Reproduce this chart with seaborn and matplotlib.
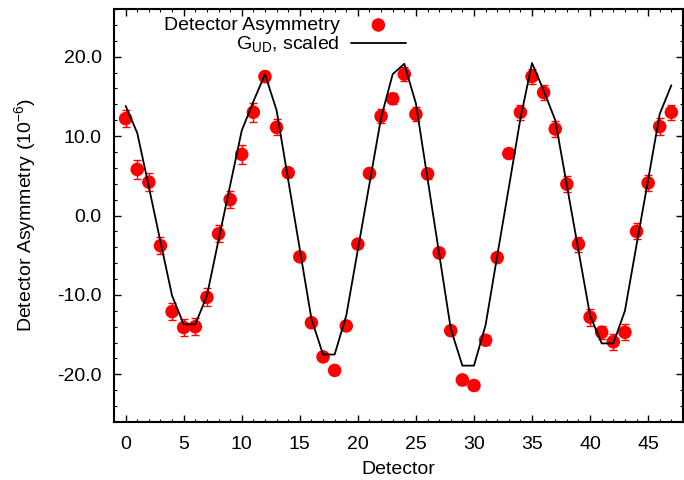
import numpy as np
import pandas as pd
import matplotlib
matplotlib.use("Agg")
import matplotlib.pyplot as plt
from matplotlib.ticker import MultipleLocator, FormatStrFormatter
import seaborn as sns

# detector index
detector = list(range(48))

# measured asymmetry (1e-6) with errors
asymmetry = [12.2, 5.8, 4.2, -3.8, -12.1, -14.1, -14.0, -10.3, -2.3, 2.0,
             7.7, 13.0, 17.5, 11.1, 5.4, -5.2, -13.5, -17.8, -19.5, -13.9,
             -3.6, 5.3, 12.5, 14.7, 17.8, 12.75, 5.25, -4.7, -14.5, -20.7,
             -21.4, -15.7, -5.3, 7.8, 13.0, 17.5, 15.5, 10.9, 3.95, -3.6,
             -12.8, -14.7, -15.9, -14.7, -2.0, 4.1, 11.2, 13.0]
asym_err = [1.05, 1.15, 1.1, 1.05, 1.05, 1.05, 1.05, 1.15, 1.05, 1.1,
            1.2, 1.2, 0.75, 1.0, 0.6, 0.5, 0.5, 0.5, 0.5, 0.5,
            0.5, 0.5, 0.9, 0.7, 0.9, 0.9, 0.6, 0.6, 0.6, 0.6,
            0.6, 0.6, 0.6, 0.6, 0.95, 0.9, 0.95, 1.0, 1.0, 0.95,
            1.05, 0.85, 1.0, 1.0, 1.0, 1.05, 1.1, 0.95]

# G_UD, scaled
g_ud = [13.8, 10.4, 3.6, -3.3, -10.1, -13.7, -13.7, -10.1, -3.1, 3.8,
        10.7, 14.35, 17.8, 13.25, 4.5, -4.25, -13.0, -17.5, -17.5, -12.6,
        -4.3, 4.0, 12.3, 17.8, 19.1, 14.1, 4.65, -4.8, -14.25, -18.9,
        -18.9, -13.8, -5.1, 3.5, 12.2, 19.2, 15.75, 12.0, 3.8, -4.4,
        -12.6, -16.1, -16.1, -12.0, -3.7, 4.5, 12.8, 16.4]

df = pd.DataFrame({"detector": detector, "asym": asymmetry, "err": asym_err, "g_ud": g_ud})

sns.set_style("ticks")
plt.rcParams["font.family"] = ["Liberation Sans", "DejaVu Sans"]
plt.rcParams["axes.unicode_minus"] = False
plt.rcParams["text.color"] = "black"
plt.rcParams["axes.labelcolor"] = "black"
plt.rcParams["xtick.color"] = "black"
plt.rcParams["ytick.color"] = "black"

fig = plt.figure(figsize=(6.84, 4.8), dpi=100)
ax = fig.add_axes([0.1667, 0.1208, 0.8318, 0.8604])

ax.errorbar(df["detector"], df["asym"], yerr=df["err"], fmt="none",
            ecolor="red", elinewidth=1.0, capsize=3.2, capthick=1.0, zorder=2)
sns.scatterplot(data=df, x="detector", y="asym", color="red", s=95,
                edgecolor="none", ax=ax, zorder=3, label="Detector Asymmetry")
sns.lineplot(data=df, x="detector", y="g_ud", color="black", linewidth=1.3,
             ax=ax, zorder=4, label="G$_{\\mathregular{UD}}$, scaled")

ax.set_xlim(-1, 48)
ax.set_ylim(-26, 26)
ax.xaxis.set_major_locator(MultipleLocator(5))
ax.xaxis.set_minor_locator(MultipleLocator(1))
ax.yaxis.set_major_locator(MultipleLocator(10))
ax.yaxis.set_minor_locator(MultipleLocator(2))
ax.yaxis.set_major_formatter(FormatStrFormatter("%.1f"))
ax.tick_params(which="both", direction="in", top=True, right=True, colors="black", labelsize=14)
ax.tick_params(which="major", length=5, width=1.0)
ax.tick_params(which="minor", length=2.5, width=0.8)
ax.tick_params(axis="x", which="major", pad=10)
ax.tick_params(axis="y", which="major", pad=9)
for s in ax.spines.values():
    s.set_linewidth(1.5)
    s.set_color("black")

ax.set_xlabel("Detector", fontsize=14, labelpad=6)
ax.set_ylabel("Detector Asymmetry (10$^{\\mathregular{-6}}$)", fontsize=14, labelpad=13)

leg = ax.legend(loc="upper right", bbox_to_anchor=(0.610, 0.990), bbox_transform=fig.transFigure,
                frameon=False, markerfirst=False, fontsize=14, handlelength=2.8,
                handletextpad=0.6, labelspacing=0.05, borderpad=0.1)
for t in leg.get_texts():
    t.set_ha("right")

fig.savefig("out.png", dpi=100)
